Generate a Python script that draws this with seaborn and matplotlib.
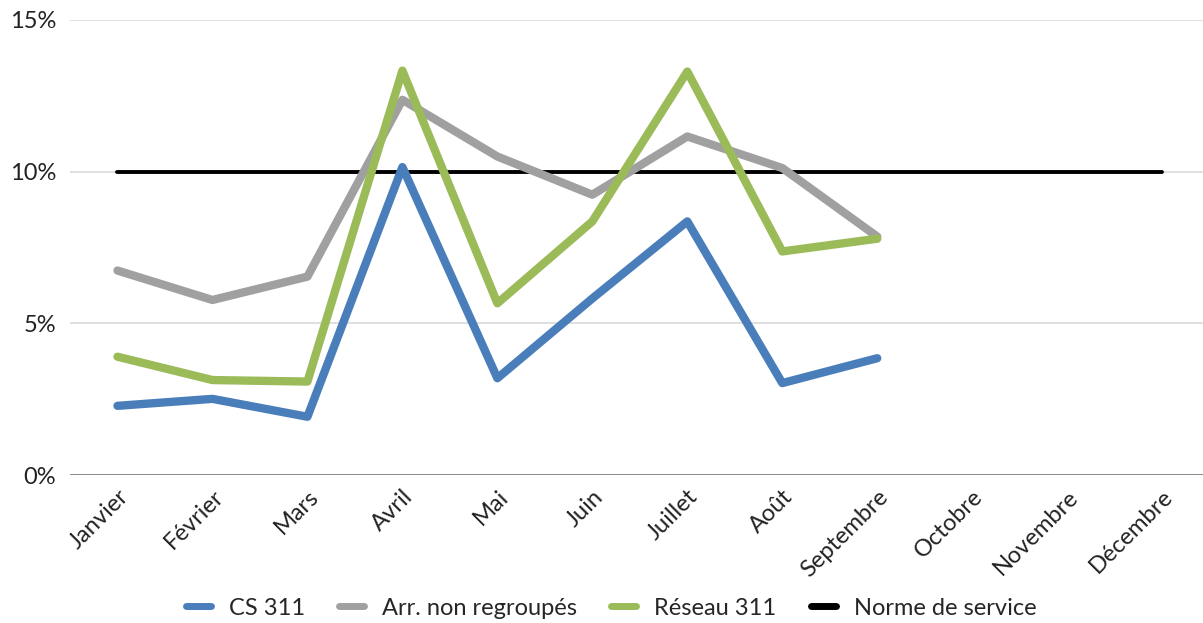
import matplotlib
matplotlib.use("Agg")
import matplotlib.pyplot as plt
import numpy as np
import pandas as pd
import seaborn as sns
from matplotlib.lines import Line2D
from matplotlib.ticker import FuncFormatter

months = ["Janvier", "Février", "Mars", "Avril", "Mai", "Juin", "Juillet",
          "Août", "Septembre", "Octobre", "Novembre", "Décembre"]
cs_311 = [2.28, 2.51, 1.92, 10.15, 3.19, 5.82, 8.36, 3.03, 3.85]
arr_non_regroupes = [6.74, 5.77, 6.54, 12.37, 10.5, 9.24, 11.16, 10.12, 7.86]
reseau_311 = [3.9, 3.13, 3.08, 13.33, 5.66, 8.36, 13.3, 7.37, 7.79]
norme_service = [10] * 12

series_names = ["CS 311", "Arr. non regroupés", "Réseau 311", "Norme de service"]
colors = ["#4A7EBB", "#A0A0A0", "#9BBB59", "#000000"]
widths = [6.0, 6.0, 6.0, 2.8]

rows = []
for name, vals in zip(series_names, [cs_311, arr_non_regroupes, reseau_311, norme_service]):
    for i, v in enumerate(vals):
        rows.append({"mois": i, "serie": name, "taux": v})
df = pd.DataFrame(rows)

sns.set_style("white")
plt.rcParams["font.family"] = ["Lato", "DejaVu Sans"]

fig = plt.figure(figsize=(12.03, 6.23), dpi=100)
ax = fig.add_axes([70 / 1203, 148 / 623, 1 - 70 / 1203, 455 / 623])

for name, color, lw in zip(series_names, colors, widths):
    sub = df[df["serie"] == name]
    sns.lineplot(data=sub, x="mois", y="taux", color=color, linewidth=lw, ax=ax,
                 legend=False, zorder=3 if name != "Norme de service" else 2)

ax.set_ylim(0, 15)
ax.set_xlim(-0.5, 11.43)
ax.set_yticks([0, 5, 10, 15])
ax.yaxis.set_major_formatter(FuncFormatter(lambda v, _: f"{int(v)}%"))
for y in [5, 10, 15]:
    ax.axhline(y, color="#D9D9D9", linewidth=1.2, zorder=1)
ax.axhline(0, color="#7F7F7F", linewidth=1.3, zorder=1)

ax.set_xticks(range(len(months)))
ax.set_xticklabels(months, rotation=45, ha="right", rotation_mode="anchor")
ax.tick_params(axis="both", length=0, labelsize=17, colors="#222222")
ax.tick_params(axis="y", pad=10)
ax.tick_params(axis="x", pad=8)
ax.set_xlabel("")
ax.set_ylabel("")
for s in ax.spines.values():
    s.set_visible(False)

handles = [Line2D([0], [0], color=c, linewidth=5) for c in colors]
fig.legend(handles, series_names, loc="center", bbox_to_anchor=(0.508, 0.024),
           ncol=4, frameon=False, fontsize=17, handlelength=1.06,
           columnspacing=1.45, handletextpad=0.76)

fig.savefig("out.png", dpi=100)
